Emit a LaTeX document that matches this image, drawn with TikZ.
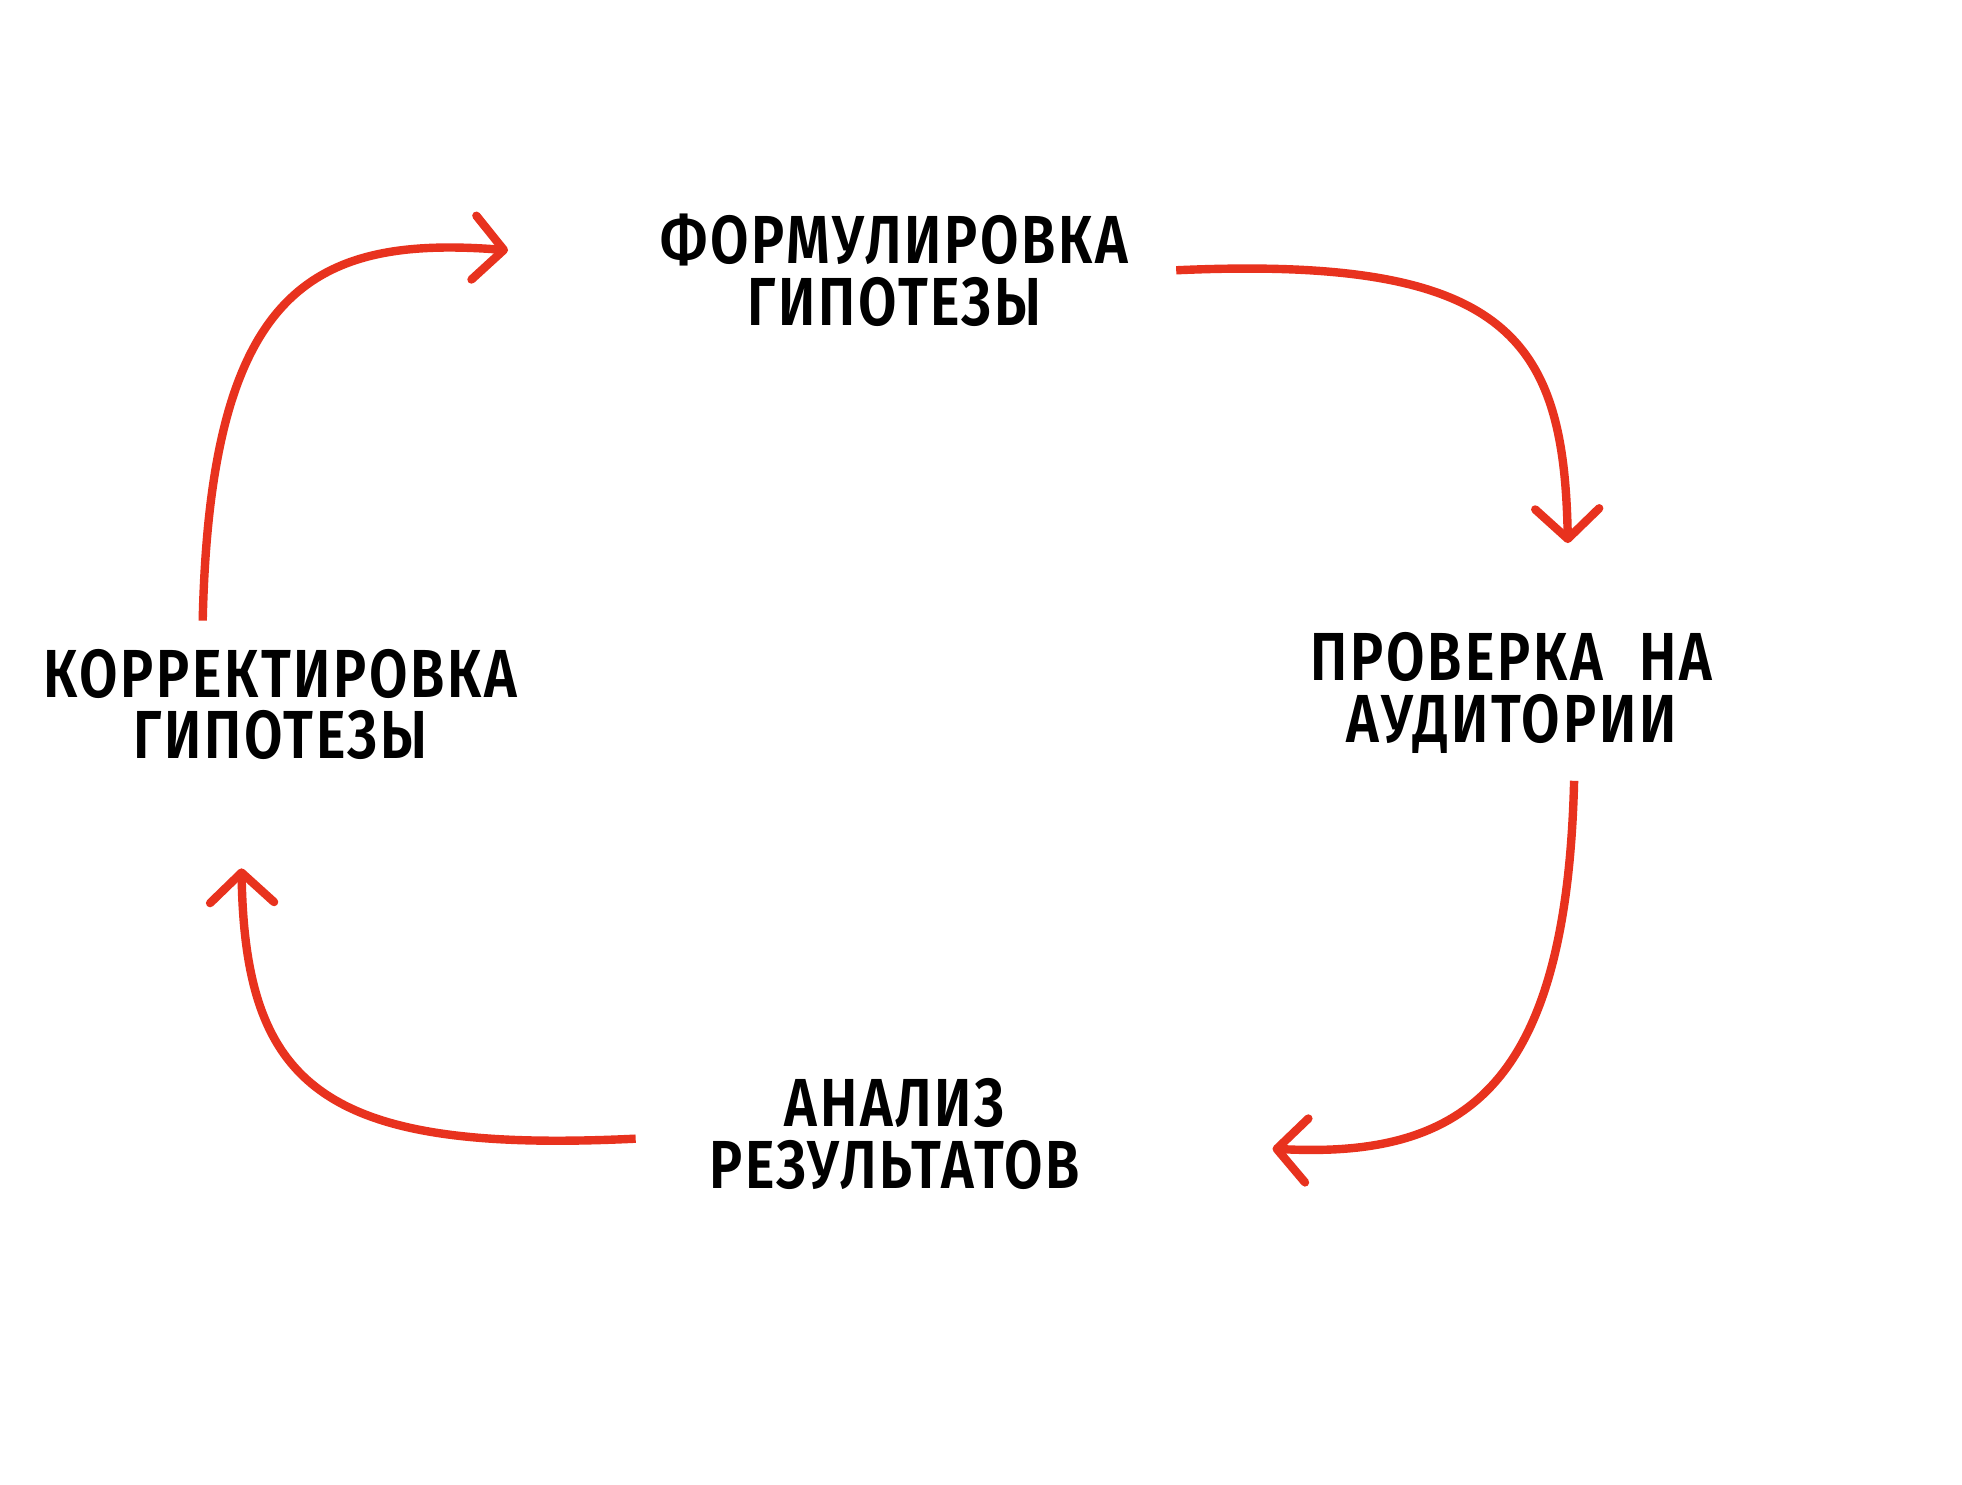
\documentclass[tikz,border=0pt]{standalone}
\usepackage{fontspec}
\newfontfamily\hand[FakeStretch=0.82,LetterSpace=4,BoldFont={Fira Sans SemiBold}]{Fira Sans}
\usetikzlibrary{arrows.meta}
\definecolor{arrred}{HTML}{E8321E}
\begin{document}
\begin{tikzpicture}[x=0.6257pt,y=-0.6257pt,
  lbl/.style={align=center,inner sep=0pt,font=\hand\bfseries\fontsize{34}{31}\selectfont},
  cyc/.style={draw=arrred,line width=4.2pt,line cap=butt,-{Straight Barb[length=15pt,width=32pt,round]}}]
\fill[white] (0,0) rectangle (1568,1186);
\useasboundingbox (0,0) rectangle (1568,1186);
\node[lbl] (form) at (715,216) {ФОРМУЛИРОВКА\\ГИПОТЕЗЫ};
\node[lbl] (check) at (1208,554) {ПРОВЕРКА\hspace{0.3em} НА\\АУДИТОРИИ};
\node[lbl] (anal) at (715,906) {АНАЛИЗ\\РЕЗУЛЬТАТОВ};
\node[lbl] (corr) at (224,563) {КОРРЕКТИРОВКА\\ГИПОТЕЗЫ};
\coordinate (a1s) at (940,216); \coordinate (a1e) at (1253,434);
\coordinate (a2s) at (1258,624); \coordinate (a2e) at (1017,918);
\coordinate (a3s) at (508,910); \coordinate (a3e) at (193,694);
\coordinate (a4s) at (162,496); \coordinate (a4e) at (406,200);
\draw[cyc] (a1s) .. controls (1205,204) and (1250,270) .. (a1e);
\draw[cyc] (a2s) .. controls (1252,870) and (1170,926) .. (a2e);
\draw[cyc] (a3s) .. controls (260,922) and (196,870) .. (a3e);
\draw[cyc] (a4s) .. controls (168,230) and (250,188) .. (a4e);
\end{tikzpicture}
\end{document}
